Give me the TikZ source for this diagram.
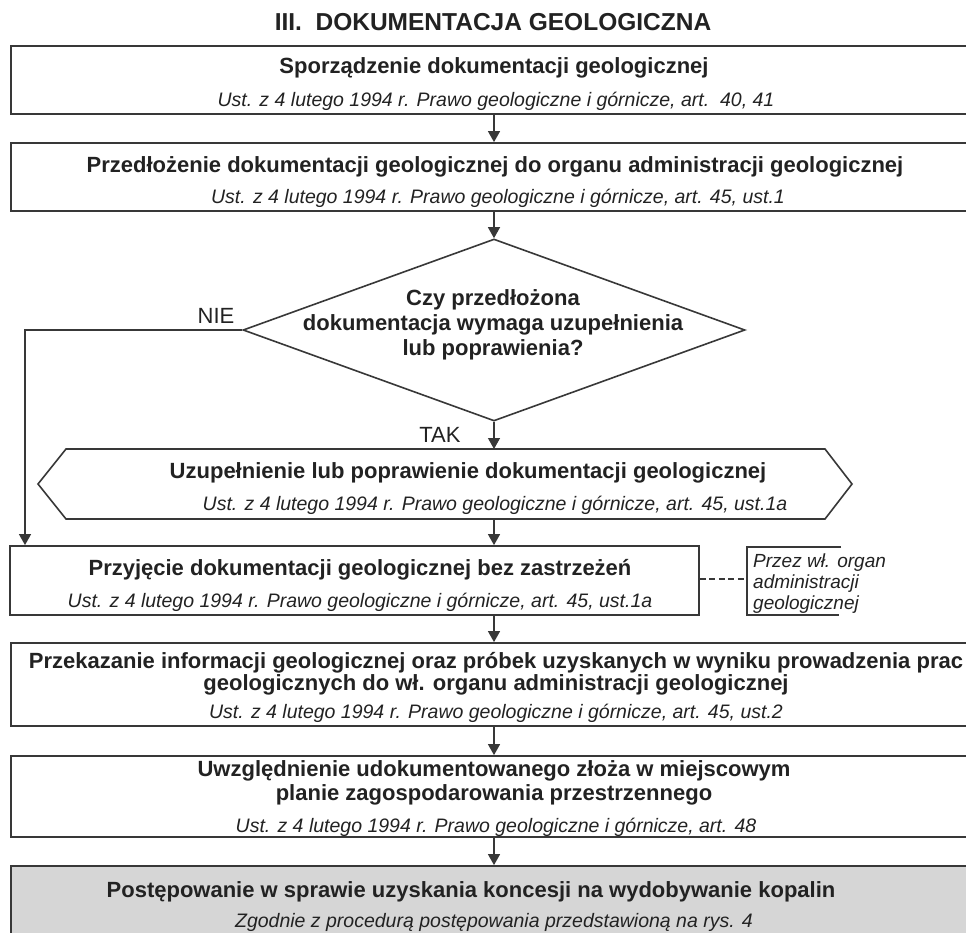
\documentclass[tikz,border=0pt]{standalone}
\usepackage{fontspec}
\setmainfont{Liberation Sans}
\usetikzlibrary{arrows.meta,shapes.geometric}
\definecolor{lc}{HTML}{383838}
\definecolor{tc}{HTML}{222222}
\definecolor{gf}{HTML}{D6D6D6}
\begin{document}
\begin{tikzpicture}[x=1pt,y=-1pt,
  box/.style={rectangle, draw=lc, line width=1.8pt, inner sep=0pt, fill=white},
  arr/.style={draw=lc, line width=1.3pt, -{Triangle[length=11pt,width=12pt]}},
  bt/.style={font=\fontsize{22}{25}\selectfont\bfseries, text=tc, inner sep=0pt, align=center},
  it/.style={font=\fontsize{19.5}{22}\selectfont\itshape, text=tc, inner sep=0pt},
  nt/.style={font=\fontsize{19}{21}\selectfont\itshape, text=tc, inner sep=0pt, anchor=base west},
  lab/.style={font=\fontsize{22}{24}\selectfont, text=tc, inner sep=0pt}]
\useasboundingbox (0,0) rectangle (966,932);
\clip (0,0) rectangle (966,932);
\fill[white] (0,0) rectangle (966,932);

% title
\node[font=\fontsize{24.5}{28}\selectfont\bfseries, text=tc, inner sep=0pt] (title) at (493,22) {III.\ \ DOKUMENTACJA GEOLOGICZNA};

% box 1
\node[box, minimum width=969pt, minimum height=68pt] (b1) at (495.5,80) {};
\node[bt] (b1t) at (494,68) {Sporządzenie dokumentacji geologicznej};
\node[it] (b1i) at (496,101) {Ust. z 4 lutego 1994 r. Prawo geologiczne i górnicze, art.\ \ 40, 41};

% box 2
\node[box, minimum width=969pt, minimum height=68pt] (b2) at (495.5,177) {};
\node[bt] (b2t) at (495,167) {Przedłożenie dokumentacji geologicznej do organu administracji geologicznej};
\node[it] (b2i) at (498,198) {Ust. z 4 lutego 1994 r. Prawo geologiczne i górnicze, art. 45, ust.1};

% diamond
\node[diamond, draw=lc, line width=1.6pt, minimum width=502pt, minimum height=182pt, inner sep=0pt] (d) at (494,330) {};
\node[bt] (dt) at (493,325) {Czy przedłożona\\dokumentacja wymaga uzupełnienia\\lub poprawienia?};
\node[lab] (nie) at (216,316) {NIE};
\node[lab] (tak) at (440,435) {TAK};

% hexagon
\coordinate (hxL) at (38,484);
\coordinate (hxTL) at (66,449);
\coordinate (hxTR) at (825,449);
\coordinate (hxR) at (852,484);
\coordinate (hxBR) at (825,519);
\coordinate (hxBL) at (66,519);
\coordinate (hxT) at (494,449);
\coordinate (hxB) at (494,519);
\draw[lc, line width=1.6pt, line join=miter] (hxL) -- (hxTL) -- (hxTR) -- (hxR) -- (hxBR) -- (hxBL) -- cycle;
\node[bt] (hxt) at (468,473) {Uzupełnienie lub poprawienie dokumentacji geologicznej};
\node[it] (hxi) at (495,505) {Ust. z 4 lutego 1994 r. Prawo geologiczne i górnicze, art. 45, ust.1a};

% box 3
\node[box, minimum width=689pt, minimum height=69pt] (b3) at (354.5,580.5) {};
\node[bt] (b3t) at (360,570) {Przyjęcie dokumentacji geologicznej bez zastrzeżeń};
\node[it] (b3i) at (360,602) {Ust. z 4 lutego 1994 r. Prawo geologiczne i górnicze, art. 45, ust.1a};

% bracket note
\coordinate (brT) at (841,547);
\coordinate (brTL) at (747,547);
\coordinate (brBL) at (747,615);
\coordinate (brB) at (839,615);
\draw[lc, line width=1.4pt] (brT) -- (brTL) -- (brBL) -- (brB);
\node[nt] (note1) at (753,567) {Przez wł. organ};
\node[nt] (note2) at (753,588) {administracji};
\node[nt] (note3) at (753,609) {geologicznej};
\coordinate (dashY) at (0,579);
\draw[lc, line width=1.3pt, dash pattern=on 6pt off 3.5pt] (b3.east |- dashY) -- (brTL |- dashY);

% box 4
\node[box, minimum width=969pt, minimum height=83pt] (b4) at (495.5,684.5) {};
\node[bt, font=\fontsize{22}{22}\selectfont\bfseries] (b4t) at (496,674) {Przekazanie informacji geologicznej oraz próbek uzyskanych w wyniku prowadzenia prac\\geologicznych do wł. organu administracji geologicznej};
\node[it] (b4i) at (496,713) {Ust. z 4 lutego 1994 r. Prawo geologiczne i górnicze, art. 45, ust.2};

% box 5
\node[box, minimum width=969pt, minimum height=81pt] (b5) at (495.5,796.5) {};
\node[bt, font=\fontsize{22}{24}\selectfont\bfseries] (b5t) at (494,783) {Uwzględnienie udokumentowanego złoża w miejscowym\\planie zagospodarowania przestrzennego};
\node[it] (b5i) at (496,827) {Ust. z 4 lutego 1994 r. Prawo geologiczne i górnicze, art. 48};

% box 6
\node[box, fill=gf, minimum width=969pt, minimum height=94pt] (b6) at (495.5,913) {};
\node[bt] (b6t) at (471,892) {Postępowanie w sprawie uzyskania koncesji na wydobywanie kopalin};
\node[it] (b6i) at (494,922) {Zgodnie z procedurą postępowania przedstawioną na rys. 4};

% connectors
\draw[arr] (b1.south -| d.north) -- (b2.north -| d.north);
\draw[arr] (b2.south -| d.north) -- (d.north);
\draw[arr] (d.south) -- (hxT);
\draw[arr] (hxB) -- (hxB |- b3.north);
\coordinate (nieTurn) at (25,330);
\draw[arr] (d.west) -- (nieTurn) -- (nieTurn |- b3.north);
\draw[arr] (b3.south -| d.north) -- (b4.north -| d.north);
\draw[arr] (b4.south -| d.north) -- (b5.north -| d.north);
\draw[arr] (b5.south -| d.north) -- (b6.north -| d.north);
\end{tikzpicture}
\end{document}
